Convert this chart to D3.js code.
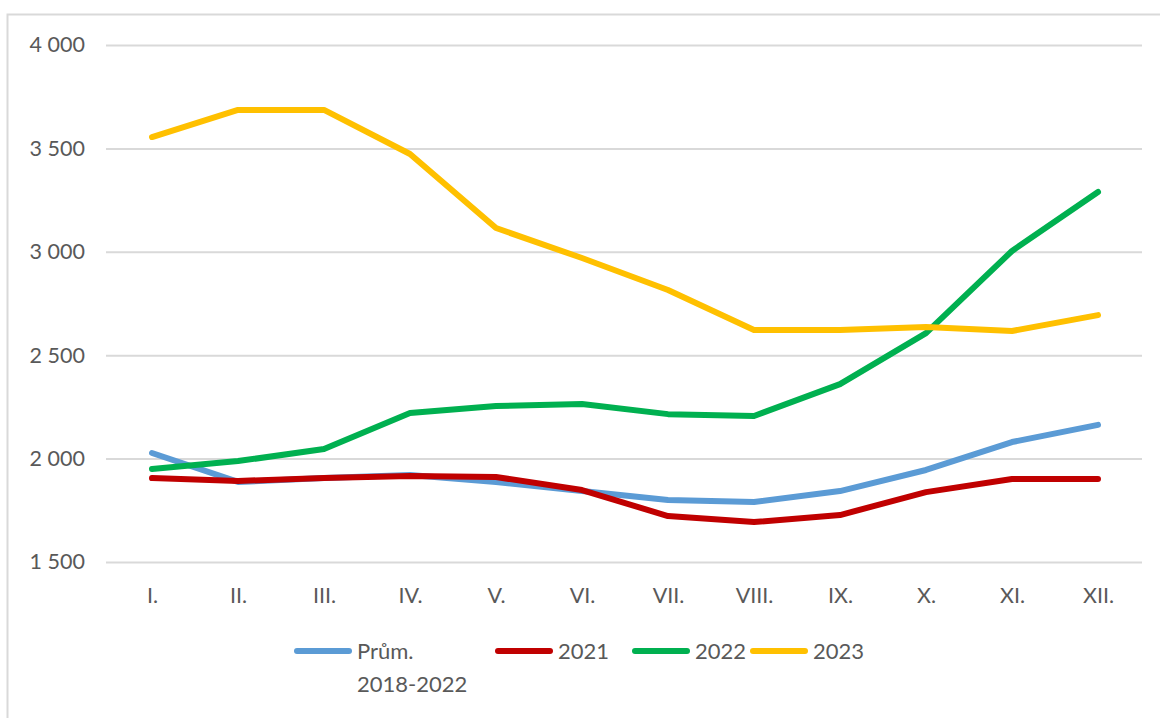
<!DOCTYPE html>
<html>
<head>
<meta charset="utf-8">
<script src="https://cdn.jsdelivr.net/npm/d3@7"></script>
<style>
  body { margin: 0; background: #fff; }
  text { font-family: Lato, "Open Sans", sans-serif; fill: #595959; }
</style>
</head>
<body>
<div id="graph"></div>
<script>
// months and series
var months = ["I.", "II.", "III.", "IV.", "V.", "VI.", "VII.", "VIII.", "IX.", "X.", "XI.", "XII."];
var avg2018_2022 = [2027, 1887, 1906, 1921, 1887, 1843, 1800, 1790, 1843, 1945, 2080, 2163];
var y2021 = [1906, 1892, 1906, 1916, 1911, 1848, 1722, 1693, 1727, 1838, 1901, 1901];
var y2022 = [1950, 1988, 2046, 2220, 2254, 2264, 2215, 2206, 2360, 2607, 3004, 3289];
var y2023 = [3555, 3686, 3686, 3473, 3115, 2970, 2815, 2622, 2622, 2636, 2617, 2694];
var yTicks = [1500, 2000, 2500, 3000, 3500, 4000];

var series = [
  {name: ["Prům.", "2018-2022"], values: avg2018_2022, color: "#5b9bd5"},
  {name: ["2021"], values: y2021, color: "#c00000"},
  {name: ["2022"], values: y2022, color: "#00b050"},
  {name: ["2023"], values: y2023, color: "#ffc000"}
];

var W = 1160, H = 718;
var svg = d3.select("#graph").append("svg")
    .attr("width", W).attr("height", H);

// chart border
svg.append("rect")
    .attr("x", 7.5).attr("y", 14.5)
    .attr("width", 1170).attr("height", 720)
    .attr("fill", "none").attr("stroke", "#d9d9d9").attr("stroke-width", 2);

var plotLeft = 106, plotRight = 1142, plotTop = 45, plotBottom = 562;

var x = d3.scalePoint().domain(months).range([152, 1098]);
var y = d3.scaleLinear().domain([1500, 4000]).range([plotBottom, plotTop]);

// gridlines
svg.append("g")
    .attr("transform", "translate(" + plotLeft + ",0)")
    .call(d3.axisLeft(y).tickValues(yTicks).tickSize(-(plotRight - plotLeft)).tickFormat(""))
    .call(function(g) {
      g.select(".domain").remove();
      g.selectAll("line").attr("stroke", "#d9d9d9").attr("stroke-width", 2);
    });

// y labels
var fmt = function(d) { return d3.format(",")(d).replace(",", " "); };
svg.append("g")
    .attr("transform", "translate(" + plotLeft + ",0)")
    .call(d3.axisLeft(y).tickValues(yTicks).tickSize(0).tickPadding(21).tickFormat(fmt))
    .call(function(g) {
      g.select(".domain").remove();
      g.selectAll("text").style("font-size", "21.5px").attr("fill", "#595959");
    });

// x labels
svg.append("g")
    .attr("transform", "translate(0," + plotBottom + ")")
    .call(d3.axisBottom(x).tickSize(0).tickPadding(26))
    .call(function(g) {
      g.select(".domain").remove();
      g.selectAll("text").style("font-size", "21.5px").attr("fill", "#595959");
    });

// lines
var line = d3.line()
    .x(function(d, i) { return x(months[i]); })
    .y(function(d) { return y(d); });

series.forEach(function(s) {
  svg.append("path")
    .datum(s.values)
    .attr("fill", "none")
    .attr("stroke", s.color)
    .attr("stroke-width", 6)
    .attr("stroke-linejoin", "round")
    .attr("stroke-linecap", "round")
    .attr("d", line);
});

// legend
var legX = [297, 498, 635, 753];
var leg = svg.append("g");
series.forEach(function(s, i) {
  var g = leg.append("g").attr("transform", "translate(" + legX[i] + ",651)");
  g.append("line")
    .attr("x1", 0).attr("x2", 52).attr("y1", 0).attr("y2", 0)
    .attr("stroke", s.color).attr("stroke-width", 6).attr("stroke-linecap", "round");
  s.name.forEach(function(t, j) {
    g.append("text")
      .attr("x", 60).attr("y", j * 33 + 8)
      .style("font-size", "22px")
      .text(t);
  });
});
</script>
</body>
</html>
